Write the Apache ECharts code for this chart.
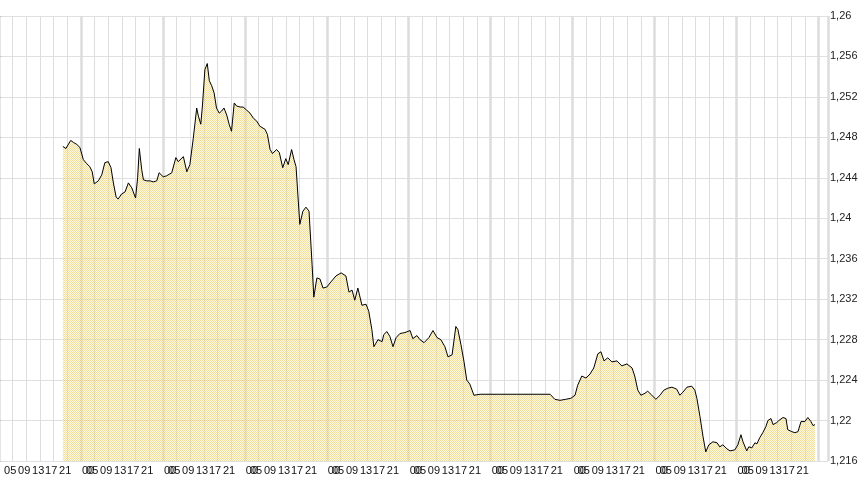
<!DOCTYPE html>
<html>
<head>
<meta charset="utf-8">
<title>Kursverlauf</title>
<script src="https://cdn.jsdelivr.net/npm/echarts@6/dist/echarts.min.js"></script>
<style>
  html, body { margin: 0; padding: 0; background: #fff; }
  #chart { width: 860px; height: 480px; }
</style>
</head>
<body>
<div id="chart"></div>
<script>
// time of each quote, in hours from the start of the first day
var hours = [
  18.7, 19.6, 21.0, 21.8, 22.8, 23.7, 24.7, 25.7, 26.6, 27.3, 27.9, 29.1, 30.1, 31.0, 32.0, 32.8,
  33.5, 34.3, 34.9, 35.9, 36.9, 37.9, 38.9, 40.0, 40.6, 41.1, 41.8, 42.3, 43.3, 44.2, 45.2, 46.2,
  46.9, 48.1, 49.1, 50.6, 51.8, 52.5, 53.0, 54.0, 55.0, 55.9, 56.9, 57.9, 58.4, 59.1, 59.6, 60.3,
  61.0, 61.6, 62.3, 63.0, 63.7, 64.5, 65.2, 65.9, 66.7, 67.4, 68.1, 68.9, 69.6, 70.6, 71.5, 72.5,
  73.5, 74.5, 75.5, 76.4, 77.9, 78.6, 79.4, 80.1, 81.3, 82.1, 83.1, 84.0, 84.7, 85.7, 86.4, 87.0,
  88.1, 89.0, 89.9, 90.8, 91.7, 92.2, 93.1, 94.0, 94.9, 96.0, 97.2, 98.7, 100.2, 101.6, 102.5, 103.4,
  104.2, 105.1, 106.3, 107.5, 108.3, 109.2, 109.8, 111.0, 112.2, 112.7, 113.6, 114.5, 115.4, 116.3, 117.4, 118.9,
  120.4, 121.2, 122.4, 123.3, 124.5, 125.9, 127.1, 128.3, 129.4, 130.6, 131.5, 132.7, 133.8, 134.4, 135.3, 136.2,
  137.0, 137.9, 139.1, 140.9, 146.7, 152.6, 161.4, 162.8, 164.3, 166.0, 167.5, 168.7, 169.5, 170.7, 171.9, 173.1,
  174.2, 175.4, 176.3, 177.2, 178.3, 179.5, 181.0, 182.4, 183.9, 185.4, 186.2, 187.1, 188.0, 189.2, 190.0, 191.2,
  192.4, 193.6, 194.7, 195.9, 197.1, 198.5, 199.4, 200.3, 201.5, 202.9, 203.8, 204.4, 205.3, 206.2, 207.0, 207.9,
  209.1, 210.3, 211.1, 212.0, 213.2, 214.1, 215.5, 216.4, 217.3, 217.9, 219.0, 219.6, 220.5, 221.4, 222.0, 222.8,
  223.7, 224.6, 225.2, 226.1, 226.7, 227.8, 228.4, 229.6, 230.5, 231.0, 232.2, 233.1, 234.0, 234.9, 236.0, 236.9,
  237.8, 238.4, 239.0
];
var rates = [
  1.2471, 1.2469, 1.2477, 1.2475, 1.2473, 1.2470, 1.2458, 1.2454, 1.2451, 1.2446, 1.2434, 1.2437, 1.2443, 1.2455, 1.2456, 1.2450,
  1.2435, 1.2421, 1.2419, 1.2424, 1.2426, 1.2435, 1.2430, 1.2420, 1.2440, 1.2469, 1.2448, 1.2438, 1.2437, 1.2437, 1.2436, 1.2437,
  1.2445, 1.2441, 1.2442, 1.2445, 1.2460, 1.2456, 1.2455, 1.2461, 1.2446, 1.2453, 1.2479, 1.2509, 1.2501, 1.2493, 1.2512, 1.2547,
  1.2553, 1.2536, 1.2531, 1.2524, 1.2509, 1.2504, 1.2506, 1.2509, 1.2502, 1.2493, 1.2486, 1.2514, 1.2511, 1.2510, 1.2510, 1.2507,
  1.2504, 1.2499, 1.2496, 1.2491, 1.2488, 1.2483, 1.2468, 1.2464, 1.2468, 1.2465, 1.2450, 1.2459, 1.2453, 1.2468, 1.2458, 1.2451,
  1.2394, 1.2407, 1.2411, 1.2407, 1.2354, 1.2322, 1.2341, 1.2340, 1.2331, 1.2332, 1.2337, 1.2343, 1.2346, 1.2343, 1.2327, 1.2329,
  1.2319, 1.2331, 1.2314, 1.2315, 1.2308, 1.2290, 1.2273, 1.2280, 1.2278, 1.2285, 1.2288, 1.2283, 1.2273, 1.2282, 1.2286, 1.2287,
  1.2289, 1.2281, 1.2284, 1.2280, 1.2277, 1.2282, 1.2289, 1.2282, 1.2280, 1.2273, 1.2263, 1.2265, 1.2293, 1.2290, 1.2275, 1.2258,
  1.2240, 1.2236, 1.2225, 1.2226, 1.2226, 1.2226, 1.2226, 1.2221, 1.2220, 1.2221, 1.2222, 1.2225, 1.2235, 1.2244, 1.2242, 1.2246,
  1.2252, 1.2266, 1.2268, 1.2259, 1.2262, 1.2258, 1.2259, 1.2254, 1.2256, 1.2252, 1.2244, 1.2230, 1.2225, 1.2227, 1.2229, 1.2225,
  1.2221, 1.2225, 1.2230, 1.2232, 1.2233, 1.2231, 1.2225, 1.2228, 1.2233, 1.2234, 1.2230, 1.2222, 1.2204, 1.2184, 1.2169, 1.2176,
  1.2179, 1.2178, 1.2174, 1.2176, 1.2172, 1.2170, 1.2171, 1.2176, 1.2186, 1.2179, 1.2170, 1.2174, 1.2173, 1.2178, 1.2177, 1.2183,
  1.2188, 1.2194, 1.2200, 1.2202, 1.2196, 1.2198, 1.2200, 1.2203, 1.2202, 1.2191, 1.2189, 1.2188, 1.2189, 1.2199, 1.2199, 1.2203,
  1.2199, 1.2195, 1.2196
];

// x axis: ten days, labelled at these hours of each day
var dayCount = 10;
var hourLabels = ['00', '05', '09', '13', '17', '21'];
var labelHours = [0.3, 1.5, 5.6, 9.7, 13.5, 17.6];
var xMax = 242.8;

// y axis
var yMin = 1.216;
var yMax = 1.26;
var yStep = 0.004;

var labelValues = [];
var labelText = {};
for (var d = 0; d < dayCount; d++) {
  for (var i = 0; i < hourLabels.length; i++) {
    if (d === 0 && i === 0) continue;   // first day starts with 05
    var v = d * 24 + labelHours[i];
    labelValues.push(v);
    labelText[v.toFixed(2)] = hourLabels[i];
  }
}

// dithered yellow fill like the original
var dots = document.createElement('canvas');
dots.width = 2;
dots.height = 2;
var g = dots.getContext('2d');
g.fillStyle = 'rgba(232, 200, 90, 0.6)';
g.fillRect(0, 0, 1, 1);
g.fillRect(1, 1, 1, 1);
g.fillStyle = 'rgba(255, 244, 185, 0.45)';
g.fillRect(1, 0, 1, 1);
g.fillRect(0, 1, 1, 1);

var chart = echarts.init(document.getElementById('chart'));

var option = {
  animation: false,
  backgroundColor: '#fff',
  grid: {
    left: -1,
    right: 32,
    top: 16,
    bottom: 19,
    containLabel: false,
    outerBoundsMode: 'none'
  },
  xAxis: [
    {
      type: 'value',
      min: 0,
      max: xMax,
      axisLine: { show: false },
      axisTick: { show: false },
      splitLine: { show: false },
      axisLabel: {
        customValues: labelValues,
        align: 'left',
        margin: 4,
        fontSize: 11,
        color: '#111',
        fontFamily: 'Liberation Sans, Arial, sans-serif',
        formatter: function (val) {
          return labelText[Number(val).toFixed(2)] || '';
        }
      }
    },
    {
      type: 'value',
      min: 0,
      max: xMax,
      interval: 4,
      axisLine: { show: false },
      axisTick: { show: false },
      axisLabel: { show: false },
      splitLine: { show: true, lineStyle: { color: '#dddddd', width: 1 } }
    },
    {
      type: 'value',
      min: 0,
      max: xMax,
      interval: 24,
      axisLine: { show: false },
      axisTick: { show: false },
      axisLabel: { show: false },
      splitLine: { show: true, lineStyle: { color: '#dcdcdc', width: 2.5 } }
    }
  ],
  yAxis: {
    type: 'value',
    position: 'right',
    min: yMin,
    max: yMax,
    interval: yStep,
    axisLine: { show: true, lineStyle: { color: '#cccccc' } },
    axisTick: { show: true, length: 3, lineStyle: { color: '#cccccc' } },
    splitLine: { show: true, lineStyle: { color: '#e0e0e0' } },
    axisLabel: {
      margin: 2,
      fontSize: 11,
      color: '#222',
      fontFamily: 'Liberation Sans, Arial, sans-serif',
      formatter: function (val) {
        return parseFloat(val.toFixed(3)).toString().replace('.', ',');
      }
    }
  },
  series: [
    {
      type: 'line',
      xAxisIndex: 0,
      data: hours.map(function (h, i) { return [h, rates[i]]; }),
      showSymbol: false,
      symbol: 'none',
      lineStyle: { color: '#000', width: 1 },
      areaStyle: { color: { image: dots, repeat: 'repeat' }, origin: 'start', opacity: 1 }
    }
  ]
};

chart.setOption(option);
window.addEventListener('resize', function () {
  chart.resize();
});
</script>
</body>
</html>
